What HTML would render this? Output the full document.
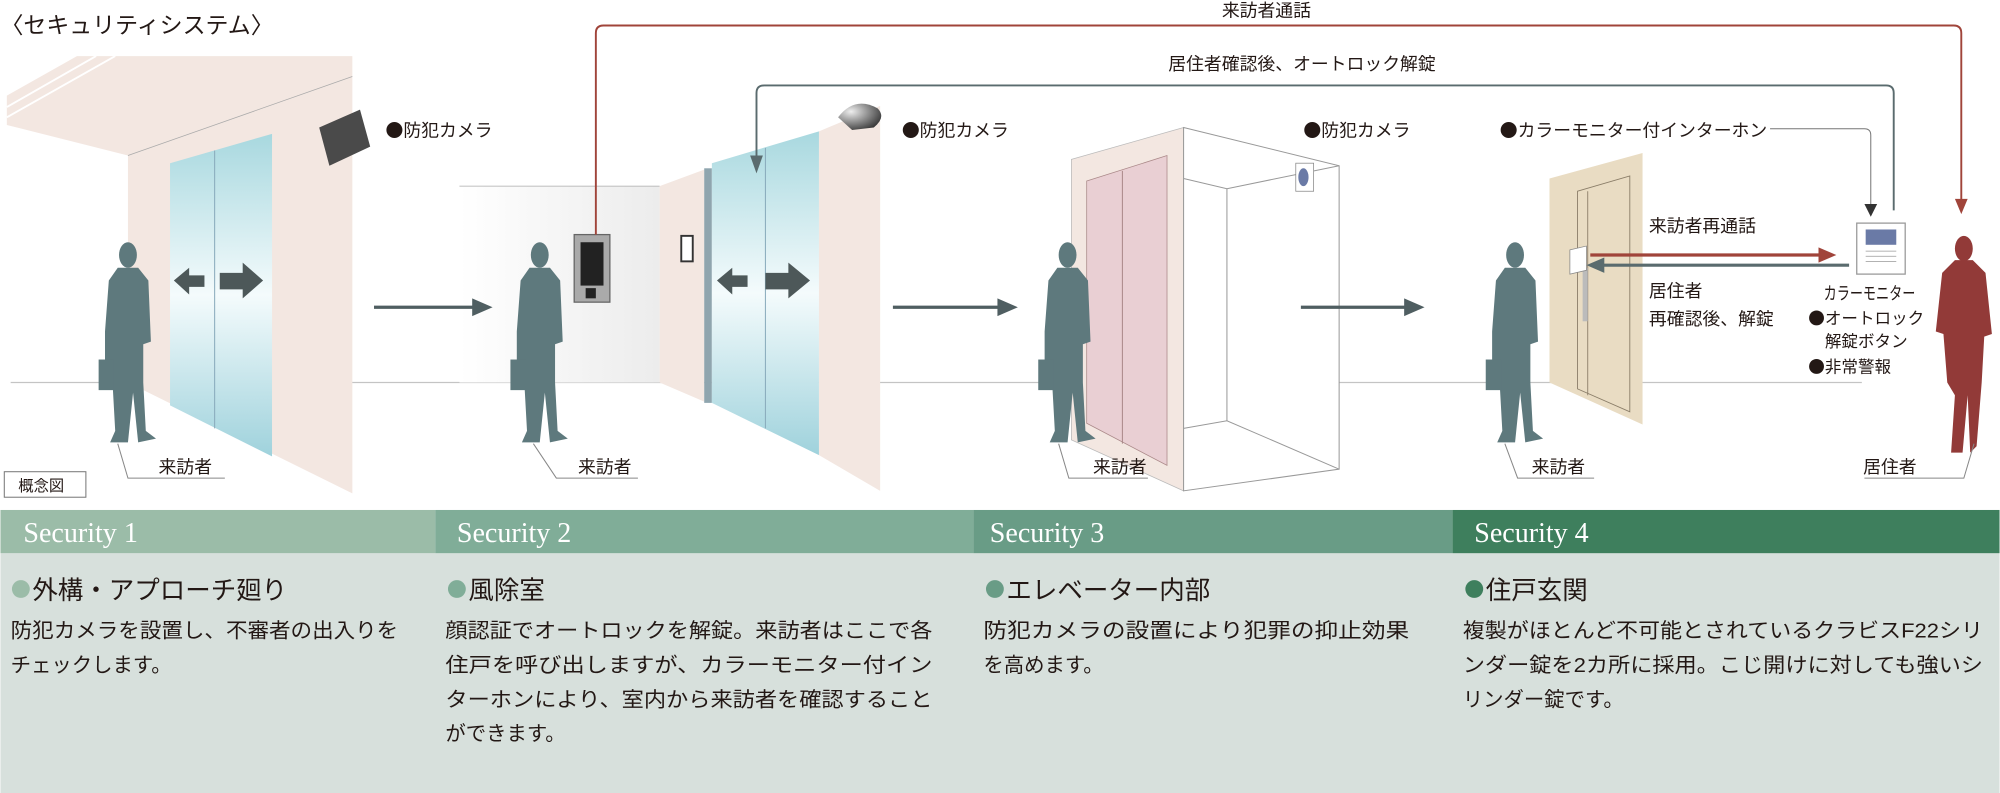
<!DOCTYPE html>
<html><head><meta charset="utf-8"><style>
html,body{margin:0;padding:0;background:#fff;}
svg{display:block}
text{font-family:"Liberation Sans","Noto Sans CJK JP",sans-serif;fill:#231815}
.s{font-family:"Liberation Serif","Noto Serif CJK SC",serif;fill:#fff;font-size:22px}
.b{font-size:16px}
.h{font-size:20px}
.l{font-size:14px}
.d{font-family:"Noto Sans CJK JP",sans-serif}
</style></head><body>
<svg width="2000" height="793" viewBox="0 0 1568 622" xmlns="http://www.w3.org/2000/svg">
<defs>
<linearGradient id="gl" x1="0" y1="0" x2="0" y2="1">
<stop offset="0" stop-color="#a8d8df"/><stop offset="0.5" stop-color="#f4fbfc"/><stop offset="1" stop-color="#9fd2dc"/></linearGradient>
<linearGradient id="bw" x1="0" y1="0" x2="1" y2="0">
<stop offset="0" stop-color="#fff"/><stop offset="1" stop-color="#ececec"/></linearGradient>
<radialGradient id="dome" cx="0.3" cy="0.3" r="0.8"><stop offset="0" stop-color="#eee"/><stop offset="1" stop-color="#333"/></radialGradient>
<g id="man">
<ellipse cx="20" cy="10" rx="7" ry="10"/>
<path d="M12,20 L28,20 L36,30 L38,78 L32,80 L32,110 L34,148 L42,154 L28,157 L24,118 L20,157 L6,157 L10,148 L8,112 L2,110 L2,70 L5,30 Z"/>
<rect x="-3" y="92" width="12" height="24"/>
</g>
</defs>

<text x="0" y="26" style="font-size:18px">〈セキュリティシステム〉</text>

<line x1="8" y1="300" x2="1460" y2="300" stroke="#c4c4c4" stroke-width="1"/>

<!-- Scene 1 -->
<polygon points="5,75 60,44 276,44 276,60 100,122 5,98" fill="#f3e7e1"/>
<line x1="5" y1="84" x2="75" y2="44" stroke="#fff" stroke-width="1.5"/>
<line x1="5" y1="92" x2="90" y2="44" stroke="#fff" stroke-width="1.5"/>
<polygon points="100,122 276,60 276,387 100,300" fill="#f3e7e1"/>
<line x1="100" y1="122" x2="276" y2="60" stroke="#aaa" stroke-width="0.6"/>
<polygon points="133,128 213,105 213,358 133,318" fill="url(#gl)"/>
<line x1="168" y1="118" x2="168" y2="336" stroke="#8ab" stroke-width="0.8"/>
<polygon points="136,220 148,210 148,216 160,216 160,225 148,225 148,231" fill="#4d5859"/>
<polygon points="206,220 190,206 190,214 172,214 172,227 190,227 190,234" fill="#4d5859"/>
<polygon points="250,100 282,86 290,115 258,130" fill="#4a4a4a"/>
<text x="302" y="107" class="l"><tspan class="d">●</tspan>防犯カメラ</text>
<use href="#man" x="80" y="190" fill="#5e797d"/>
<polyline points="92,348 100,375 176,375" fill="none" stroke="#888" stroke-width="0.8"/>
<text x="124" y="371" class="l">来訪者</text>
<rect x="3" y="370" width="64" height="20" fill="#fff" stroke="#777" stroke-width="0.8"/>
<text x="14" y="385" style="font-size:12px">概念図</text>

<!-- Scene 2 -->
<rect x="360" y="146" width="157" height="154" fill="url(#bw)"/>
<line x1="360" y1="146" x2="517" y2="146" stroke="#aaa" stroke-width="0.6"/>
<line x1="293" y1="241" x2="372" y2="241" stroke="#4f5e61" stroke-width="2.5"/>
<polygon points="370,234 386,241 370,248" fill="#4f5e61"/>
<polygon points="517,146 552,133 552,315 517,300" fill="#f3e7e1"/>
<rect x="552" y="132" width="6" height="184" fill="#8fa5ae"/>
<polygon points="558,128 642,103 642,357 558,316" fill="url(#gl)"/>
<line x1="600" y1="116" x2="600" y2="336" stroke="#8ab" stroke-width="0.8"/>
<polygon points="642,103 690,83 690,385 642,357" fill="#f3e7e1"/>
<polygon points="562,220 574,210 574,216 586,216 586,225 574,225 574,231" fill="#4d5859"/>
<polygon points="635,220 618,206 618,214 600,214 600,227 618,227 618,234" fill="#4d5859"/>
<rect x="534" y="185" width="9" height="20" fill="#fff" stroke="#333" stroke-width="1.5"/>
<rect x="450" y="184" width="28" height="53" fill="#aaa" stroke="#666"/>
<rect x="455" y="190" width="18" height="34" fill="#222"/>
<rect x="459" y="226" width="8" height="8" fill="#222"/>
<path d="M657,92 Q670,75 688,85 Q695,92 685,100 L668,102 Z" fill="url(#dome)"/>
<text x="707" y="107" class="l"><tspan class="d">●</tspan>防犯カメラ</text>
<use href="#man" x="403" y="190" fill="#5e797d"/>
<polyline points="418,348 436,375 500,375" fill="none" stroke="#888" stroke-width="0.8"/>
<text x="453" y="371" class="l">来訪者</text>
<line x1="700" y1="241" x2="784" y2="241" stroke="#4f5e61" stroke-width="2.5"/>
<polygon points="782,234 798,241 782,248" fill="#4f5e61"/>

<!-- connectors top -->
<path d="M467,184 L467,26 Q467,20 473,20 L1532,20 Q1538,20 1538,26 L1538,160" fill="none" stroke="#a0443a" stroke-width="1.5"/>
<polygon points="1533,156 1543,156 1538,168" fill="#a0443a"/>
<text x="958" y="13" class="l">来訪者通話</text>
<path d="M593,130 L593,73 Q593,67 599,67 L1479,67 Q1485,67 1485,73 L1485,165" fill="none" stroke="#5a6b6e" stroke-width="1.5"/>
<polygon points="588,122 598,122 593,136" fill="#5a6b6e"/>
<text x="916" y="55" class="l">居住者確認後、オートロック解錠</text>

<!-- Scene 3 -->
<polygon points="840,125 928,100 928,385 840,345" fill="#f3e7e1" stroke="#bbb" stroke-width="0.6"/>
<polygon points="928,100 1050,130 1050,368 928,385" fill="#fff" stroke="#999" stroke-width="0.8"/>
<polyline points="928,140 962,148 1050,130" fill="none" stroke="#999" stroke-width="0.8"/>
<line x1="962" y1="148" x2="962" y2="330" stroke="#999" stroke-width="0.8"/>
<polyline points="928,336 962,330 1050,368" fill="none" stroke="#999" stroke-width="0.8"/>
<polygon points="852,142 915,122 915,365 852,332" fill="#e9cfd3" stroke="#a88" stroke-width="0.6"/>
<line x1="880" y1="134" x2="880" y2="348" stroke="#a88" stroke-width="0.8"/>
<rect x="1016" y="128" width="14" height="22" fill="#fff" stroke="#888" stroke-width="0.6"/>
<ellipse cx="1022" cy="139" rx="4" ry="7" fill="#6a7aa6"/>
<text x="1022" y="107" class="l"><tspan class="d">●</tspan>防犯カメラ</text>
<use href="#man" x="817" y="190" fill="#5e797d"/>
<polyline points="830,348 838,375 900,375" fill="none" stroke="#888" stroke-width="0.8"/>
<text x="857" y="371" class="l">来訪者</text>
<line x1="1020" y1="241" x2="1103" y2="241" stroke="#4f5e61" stroke-width="2.5"/>
<polygon points="1101,234 1117,241 1101,248" fill="#4f5e61"/>

<!-- Scene 4 -->
<polygon points="1215,140 1288,120 1288,333 1215,300" fill="#e9dcc3"/>
<polygon points="1237,150 1278,138 1278,323 1237,305" fill="none" stroke="#8a7d68" stroke-width="0.7"/>
<line x1="1245" y1="150" x2="1245" y2="310" stroke="#8a7d68" stroke-width="0.7"/>
<rect x="1241" y="210" width="4" height="42" fill="#bbb"/>
<polygon points="1231,196 1244,193 1244,212 1231,215" fill="#fff" stroke="#888" stroke-width="0.6"/>
<line x1="1247" y1="200" x2="1428" y2="200" stroke="#a0443a" stroke-width="2.5"/>
<polygon points="1426,194 1440,200 1426,206" fill="#a0443a"/>
<line x1="1256" y1="208" x2="1450" y2="208" stroke="#5a6b6e" stroke-width="2.5"/>
<polygon points="1258,202 1244,208 1258,214" fill="#5a6b6e"/>
<text x="1293" y="182" class="l">来訪者再通話</text>
<text x="1293" y="233" class="l">居住者</text>
<text x="1293" y="255" class="l">再確認後、解錠</text>
<rect x="1456" y="175" width="38" height="40" fill="#fff" stroke="#999"/>
<rect x="1463" y="180" width="24" height="12" fill="#6a7aa6"/>
<line x1="1463" y1="197" x2="1487" y2="197" stroke="#999" stroke-width="0.6"/>
<line x1="1463" y1="201" x2="1487" y2="201" stroke="#999" stroke-width="0.6"/>
<line x1="1463" y1="205" x2="1487" y2="205" stroke="#999" stroke-width="0.6"/>
<g fill="#923a38">
<ellipse cx="1540" cy="195" rx="7" ry="10"/>
<path d="M1533,204 L1547,204 L1557,214 L1562,262 L1556,264 L1554,300 L1550,350 L1545,355 L1543,310 L1539,355 L1530,355 L1533,310 L1527,300 L1524,262 L1518,260 L1523,214 Z"/>
</g>
<text x="1430" y="235" style="font-size:14px" textLength="72" lengthAdjust="spacingAndGlyphs">カラーモニター</text>
<text x="1418" y="254" style="font-size:13px"><tspan class="d">●</tspan>オートロック</text>
<text x="1431" y="272" style="font-size:13px">解錠ボタン</text>
<text x="1418" y="292" style="font-size:13px"><tspan class="d">●</tspan>非常警報</text>
<text x="1176" y="107" class="l"><tspan class="d">●</tspan>カラーモニター付インターホン</text>
<path d="M1388,101 L1462,101 Q1467,101 1467,106 L1467,162" fill="none" stroke="#777" stroke-width="0.8"/>
<polygon points="1462,160 1472,160 1467,170" fill="#333"/>
<use href="#man" x="1168" y="190" fill="#5e797d"/>
<polyline points="1180,348 1190,375 1250,375" fill="none" stroke="#888" stroke-width="0.8"/>
<text x="1201" y="371" class="l">来訪者</text>
<polyline points="1548,348 1540,375 1462,375" fill="none" stroke="#888" stroke-width="0.8"/>
<text x="1461" y="371" class="l">居住者</text>

<!-- Bands -->
<rect x="0" y="400" width="341" height="34" fill="#9bbca8"/>
<rect x="341" y="400" width="422" height="34" fill="#80ad98"/>
<rect x="763" y="400" width="376" height="34" fill="#699c86"/>
<rect x="1139" y="400" width="429" height="34" fill="#3e7f5d"/>
<text x="18" y="425" class="s">Security 1</text>
<text x="358" y="425" class="s">Security 2</text>
<text x="776" y="425" class="s">Security 3</text>
<text x="1156" y="425" class="s">Security 4</text>
<rect x="0" y="434" width="1568" height="188" fill="#d7e0dc"/>

<circle cx="16" cy="462" r="7" fill="#9bbca8"/>
<text x="25" y="470" class="h">外構・アプローチ廻り</text>
<text x="8" y="500" class="b" textLength="304" lengthAdjust="spacingAndGlyphs">防犯カメラを設置し、不審者の出入りを</text>
<text x="8" y="527" class="b">チェックします。</text>

<circle cx="358" cy="462" r="7" fill="#80ad98"/>
<text x="367" y="470" class="h">風除室</text>
<text x="349" y="500" class="b" textLength="382" lengthAdjust="spacingAndGlyphs">顔認証でオートロックを解錠。来訪者はここで各</text>
<text x="349" y="527" class="b" textLength="382" lengthAdjust="spacingAndGlyphs">住戸を呼び出しますが、カラーモニター付イン</text>
<text x="349" y="554" class="b" textLength="382" lengthAdjust="spacingAndGlyphs">ターホンにより、室内から来訪者を確認すること</text>
<text x="349" y="581" class="b">ができます。</text>

<circle cx="780" cy="462" r="7" fill="#699c86"/>
<text x="789" y="470" class="h">エレベーター内部</text>
<text x="771" y="500" class="b" textLength="334" lengthAdjust="spacingAndGlyphs">防犯カメラの設置により犯罪の抑止効果</text>
<text x="771" y="527" class="b">を高めます。</text>

<circle cx="1156" cy="462" r="7" fill="#3e7f5d"/>
<text x="1165" y="470" class="h">住戸玄関</text>
<text x="1147" y="500" class="b" textLength="408" lengthAdjust="spacingAndGlyphs">複製がほとんど不可能とされているクラビスF22シリ</text>
<text x="1147" y="527" class="b" textLength="408" lengthAdjust="spacingAndGlyphs">ンダー錠を2カ所に採用。こじ開けに対しても強いシ</text>
<text x="1147" y="554" class="b">リンダー錠です。</text>
</svg>
</body></html>
